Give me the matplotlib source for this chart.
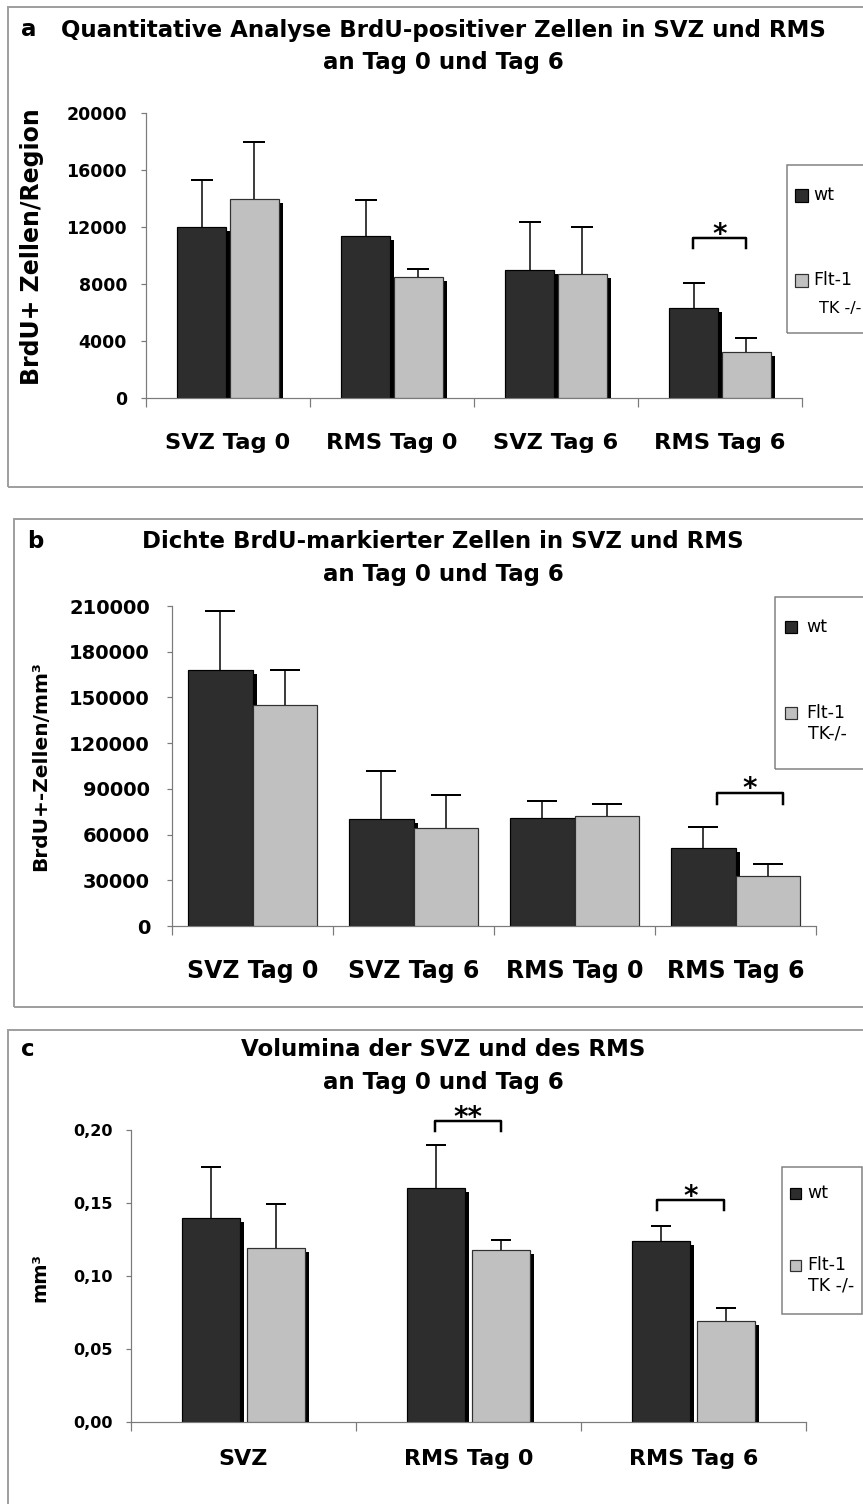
import numpy as np
import matplotlib
matplotlib.use("Agg")
import matplotlib.pyplot as plt
import matplotlib.patheffects as pe
from matplotlib.patches import Rectangle
from matplotlib.ticker import FuncFormatter

plt.rcParams['font.family'] = ['DejaVu Sans']

W, H, DPI = 863, 1504, 100
PT = 72.0 / DPI  # points per pixel

WT_COLOR = '#2d2d2d'
KO_COLOR = '#c0c0c0'

# ---------------- data ----------------
# a: BrdU+ cells per region
a_categories = ['SVZ Tag 0', 'RMS Tag 0', 'SVZ Tag 6', 'RMS Tag 6']
a_wt = [12000, 11350, 8950, 6300]
a_wt_err = [3300, 2550, 3400, 1800]
a_ko = [14000, 8500, 8700, 3200]
a_ko_err = [4000, 550, 3300, 1000]

# b: density of BrdU-labelled cells
b_categories = ['SVZ Tag 0', 'SVZ Tag 6', 'RMS Tag 0', 'RMS Tag 6']
b_wt = [168000, 70000, 71000, 51000]
b_wt_err = [39000, 32000, 11000, 14000]
b_ko = [145000, 64000, 72000, 33000]
b_ko_err = [23000, 22000, 8000, 8000]

# c: volumes
c_categories = ['SVZ', 'RMS Tag 0', 'RMS Tag 6']
c_wt = [0.140, 0.160, 0.124]
c_wt_err = [0.035, 0.030, 0.010]
c_ko = [0.119, 0.118, 0.069]
c_ko_err = [0.030, 0.007, 0.009]

# significance marks: (category index, stars)
a_sig = [(3, '*')]
b_sig = [(3, '*')]
c_sig = [(1, '**'), (2, '*')]

fig = plt.figure(figsize=(W / DPI, H / DPI), dpi=DPI)
fig.patch.set_facecolor('white')


def fx(px):
    return px / W


def fy(py):
    return 1 - py / H


def fig_rect(x0, y0, x1, y1, **kw):
    r = Rectangle((fx(x0), fy(y1)), (x1 - x0) / W, (y1 - y0) / H,
                  transform=fig.transFigure, **kw)
    fig.add_artist(r)
    return r


def draw_panel(letter, title, box, rect, cats, wt, wt_err, ko, ko_err,
               ylim, ystep, yfmt, width, offset, ko_shadow, ylabel, ylabel_pos,
               ylabel_size, xlab_y, xlab_size, ytick_size, ytick_gap, capsize,
               sig, brackets, legend):
    # panel frame
    fig_rect(*box, fill=False, edgecolor='#a0a0a0', linewidth=2 * PT)
    # titles
    fig.text(fx(box[0] + 13), fy(title[2]), letter, fontsize=16.5, fontweight='bold',
             ha='left', va='center')
    fig.text(fx(443), fy(title[2]), title[0], fontsize=16.5, fontweight='bold',
             ha='center', va='center')
    fig.text(fx(443), fy(title[3]), title[1], fontsize=16.5, fontweight='bold',
             ha='center', va='center')

    left, top, right, bottom = rect
    ax = fig.add_axes([fx(left), fy(bottom), (right - left) / W, (bottom - top) / H])
    n = len(cats)
    x = np.arange(n)
    shadow = [pe.SimplePatchShadow(offset=(4 * PT, -4 * PT), shadow_rgbFace='black',
                                   alpha=1.0), pe.Normal()]
    bw = ax.bar(x - offset, wt, width, color=WT_COLOR, edgecolor='black',
                linewidth=1.2 * PT, zorder=2)
    for p in bw:
        p.set_path_effects(shadow)
    bk = ax.bar(x + offset, ko, width, color=KO_COLOR, edgecolor='#303030',
                linewidth=1.2 * PT, zorder=3)
    if ko_shadow:
        for p in bk:
            p.set_path_effects(shadow)

    for xs, vals, errs in ((x - offset, wt, wt_err), (x + offset, ko, ko_err)):
        eb = ax.errorbar(xs, vals, yerr=[np.zeros(n), errs], fmt='none', ecolor='black',
                         elinewidth=1.5 * PT, capsize=capsize * PT, capthick=2 * PT,
                         zorder=4)
        for cl in eb.lines[1]:
            if np.allclose(cl.get_ydata(), vals):
                cl.set_visible(False)

    ax.set_xlim(-0.5, n - 0.5)
    ax.set_ylim(*ylim)
    ax.set_xticks(np.arange(n + 1) - 0.5)
    ax.set_xticklabels([])
    ax.set_xticks(x, cats, minor=True)
    ax.tick_params(axis='x', which='major', direction='out', length=9 * PT,
                   width=1.2 * PT, color='#7a7a7a')
    # label centre sits xlab_y px below the axis line
    xpad = (xlab_y - bottom) - 0.395 * xlab_size / PT
    ax.tick_params(axis='x', which='minor', length=0, pad=xpad * PT,
                   labelsize=xlab_size)
    for t in ax.get_xticklabels(minor=True):
        t.set_fontweight('bold')
    ax.set_yticks(np.arange(ylim[0], ylim[1] + ystep / 2, ystep))
    ax.yaxis.set_major_formatter(FuncFormatter(yfmt))
    ax.tick_params(axis='y', direction='out', length=5 * PT, width=1.2 * PT,
                   color='#7a7a7a', labelsize=ytick_size, pad=(ytick_gap - 5) * PT)
    for t in ax.get_yticklabels():
        t.set_fontweight('bold')
    for s in ('top', 'right'):
        ax.spines[s].set_visible(False)
    for s in ('left', 'bottom'):
        ax.spines[s].set_color('#7a7a7a')
        ax.spines[s].set_linewidth(1.2 * PT)
    ax.set_facecolor('none')

    fig.text(fx(ylabel_pos[0]), fy(ylabel_pos[1]), ylabel, rotation=90,
             fontsize=ylabel_size, fontweight='bold', ha='center', va='center')

    # significance brackets
    for (ci, stars), (x1, x2, ytop, yleg) in zip(sig, brackets):
        ax.plot([x1, x1, x2, x2], [yleg, ytop, ytop, yleg], color='black',
                lw=2.5 * PT, clip_on=False, zorder=5, solid_joinstyle='round')
        ax.annotate(stars, xy=((x1 + x2) / 2, ytop), xytext=(0, -4.5 * PT),
                    textcoords='offset points', ha='center', va='baseline',
                    fontsize=20, fontweight='bold', annotation_clip=False)

    # legend
    lb = legend['box']
    fig_rect(*lb, fill=False, edgecolor='#808080', linewidth=1.5 * PT)
    s = legend['sq']
    for (yc, lab), col, ec in zip(legend['rows'], (WT_COLOR, KO_COLOR),
                                  ('black', '#303030')):
        fig_rect(legend['sq_x'], yc - s / 2, legend['sq_x'] + s, yc + s / 2,
                 facecolor=col, edgecolor=ec, linewidth=1.2 * PT)
        fig.text(fx(legend['tx']), fy(yc), lab, fontsize=12.5, ha='left', va='center')
    fig.text(fx(legend['tk'][0]), fy(legend['tk'][1]), legend['tk'][2],
             fontsize=legend.get('tk_size', 12.5), ha='left', va='center')
    return ax


plain = lambda v, p: f'{v:.0f}'
comma = lambda v, p: f'{v:.2f}'.replace('.', ',')

draw_panel('a', ('Quantitative Analyse BrdU-positiver Zellen in SVZ und RMS',
                 'an Tag 0 und Tag 6', 30, 63),
           box=(8, 7, 900, 487), rect=(146, 113, 802, 398),
           cats=a_categories, wt=a_wt, wt_err=a_wt_err, ko=a_ko, ko_err=a_ko_err,
           ylim=(0, 20000), ystep=4000, yfmt=plain, width=0.30, offset=0.16,
           ko_shadow=True, ylabel='BrdU+ Zellen/Region', ylabel_pos=(32, 247),
           ylabel_size=17, xlab_y=442, xlab_size=16.2, ytick_size=12.5, ytick_gap=19,
           capsize=11, sig=a_sig, brackets=[(2.835, 3.159, 11200, 10500)],
           legend=dict(box=(787, 165, 900, 333), sq=13, sq_x=795,
                       rows=[(195, 'wt'), (280, 'Flt-1')], tx=813,
                       tk=(819, 308, 'TK -/-'), tk_size=11.5))

draw_panel('b', ('Dichte BrdU-markierter Zellen in SVZ und RMS',
                 'an Tag 0 und Tag 6', 542, 575),
           box=(14, 519, 900, 1007), rect=(172, 606, 816, 926),
           cats=b_categories, wt=b_wt, wt_err=b_wt_err, ko=b_ko, ko_err=b_ko_err,
           ylim=(0, 210000), ystep=30000, yfmt=plain, width=0.40, offset=0.20,
           ko_shadow=False, ylabel='BrdU+-Zellen/mm\u00b3', ylabel_pos=(41, 766),
           ylabel_size=14.5, xlab_y=968, xlab_size=17, ytick_size=14, ytick_gap=22,
           capsize=15, sig=b_sig, brackets=[(2.882, 3.293, 87500, 80000)],
           legend=dict(box=(775, 597, 900, 769), sq=12, sq_x=785,
                       rows=[(627, 'wt'), (713, 'Flt-1')], tx=806,
                       tk=(808, 734, 'TK-/-')))

draw_panel('c', ('Volumina der SVZ und des RMS', 'an Tag 0 und Tag 6', 1050, 1083),
           box=(8, 1030, 900, 1600), rect=(131, 1130, 806, 1422),
           cats=c_categories, wt=c_wt, wt_err=c_wt_err, ko=c_ko, ko_err=c_ko_err,
           ylim=(0, 0.20), ystep=0.05, yfmt=comma, width=0.26, offset=0.145,
           ko_shadow=True, ylabel='mm\u00b3', ylabel_pos=(40, 1278),
           ylabel_size=14, xlab_y=1458, xlab_size=16, ytick_size=11.5, ytick_gap=18,
           capsize=10, sig=c_sig,
           brackets=[(0.851, 1.144, 0.206, 0.199), (1.838, 2.136, 0.152, 0.145)],
           legend=dict(box=(782, 1167, 862, 1314), sq=11, sq_x=790,
                       rows=[(1193, 'wt'), (1265, 'Flt-1')], tx=807,
                       tk=(808, 1286, 'TK -/-')))

fig.savefig('out.png', dpi=DPI)
